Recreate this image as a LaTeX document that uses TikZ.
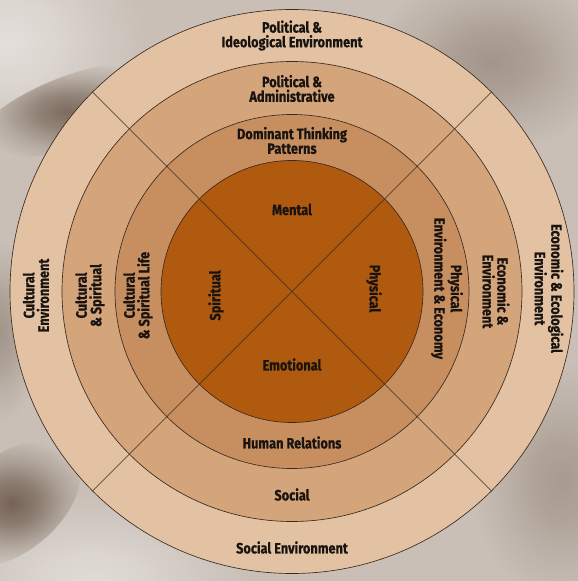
\documentclass[tikz,border=0pt]{standalone}
\usepackage{fontspec}
\setmainfont{Fira Sans}[FakeStretch=0.85, BoldFeatures={FakeBold=0.7}]
\usepackage{xcolor}
\usetikzlibrary{fadings}

\definecolor{paper}{HTML}{C9BFB7}
\definecolor{smudge}{HTML}{5A4636}
\definecolor{ringOuter}{HTML}{E2C2A2}
\definecolor{ringSecond}{HTML}{D4A47B}
\definecolor{ringThird}{HTML}{C78F60}
\definecolor{ringCore}{HTML}{B05A10}
\definecolor{lineBrown}{HTML}{3A2A20}
\definecolor{labelInk}{HTML}{1A1410}

\pgfdeclareradialshading{softshade}{\pgfpointorigin}{color(0bp)=(white);
  color(8bp)=(white!75!black); color(17bp)=(white!30!black);
  color(25bp)=(black); color(50bp)=(black)}
\pgfdeclarefading{softblob}{\pgfuseshading{softshade}}

\tikzset{
  ringline/.style={draw=lineBrown, line width=0.65pt},
  ringlabel/.style={align=center, inner sep=0pt, text=labelInk,
    font=\bfseries\fontsize{15}{14.6}\selectfont},
  blob/.style={fill=smudge, path fading=softblob},
}

\begin{document}
\begin{tikzpicture}[x=1pt,y=1pt]
        % Background
        \fill[paper] (-292,-289.5) rectangle (286,291.5);
        \useasboundingbox (-292,-289.5) rectangle (286,291.5);
        \fill[white, path fading=softblob, opacity=0.5] (-285,250) ellipse (140 and 120);
        \fill[white, path fading=softblob, opacity=0.45] (-200,-290) ellipse (160 and 90);
        \fill[blob, opacity=0.7, rotate around={22:(-225,180)}]
          (-225,180) ellipse (100 and 34);
        \fill[blob, opacity=0.75, rotate around={40:(-280,-212)}]
          (-280,-212) ellipse (80 and 48);
        \fill[blob, opacity=0.35] (200,230) ellipse (120 and 90);
        \fill[blob, opacity=0.3] (270,-190) ellipse (90 and 120);
        \fill[blob, opacity=0.35] (-292,-40) ellipse (40 and 90);
        % Rings
        \filldraw[fill=ringOuter, ringline] (0,0) circle (282);
        \filldraw[fill=ringSecond, ringline] (0,0) circle (230);
        \filldraw[fill=ringThird, ringline] (0,0) circle (177);
        \filldraw[fill=ringCore, ringline] (0,0) circle (131);
        % Diagonals
        \coordinate (ne) at (45:282);
        \coordinate (nw) at (135:282);
        \coordinate (sw) at (225:282);
        \coordinate (se) at (315:282);
        \draw[ringline] (nw) -- (se);
        \draw[ringline] (ne) -- (sw);
        % Top labels
        \node[ringlabel] (polIdeo) at (0,256) {Political \&\\Ideological Environment};
        \node[ringlabel] (polAdmin) at (0,203) {Political \&\\Administrative};
        \node[ringlabel] (thinking) at (0,151) {Dominant Thinking\\Patterns};
        \node[ringlabel] (mental) at (0,82) {Mental};
        % Bottom labels
        \node[ringlabel] (emotional) at (0,-73) {Emotional};
        \node[ringlabel] (relations) at (0,-151) {Human Relations};
        \node[ringlabel] (social) at (0,-203) {Social};
        \node[ringlabel] (socialEnv) at (0,-256) {Social Environment};
        % Left labels
        \node[ringlabel, rotate=90] (culturalEnv) at (-256,-4) {Cultural\\Environment};
        \node[ringlabel, rotate=90] (culturalSpir) at (-202,-4) {Cultural\\\& Spiritual};
        \node[ringlabel, rotate=90] (culturalLife) at (-154,-4) {Cultural\\\& Spiritual Life};
        \node[ringlabel, rotate=90] (spiritual) at (-76,-4) {Spiritual};
        % Right labels
        \node[ringlabel, rotate=-90] (physical) at (82,3) {Physical};
        \node[ringlabel, rotate=-90] (physEcon) at (155,3) {Physical\\Environment \& Economy};
        \node[ringlabel, rotate=-90] (econEnv) at (204,0) {Economic \&\\Environment};
        \node[ringlabel, rotate=-90] (econEco) at (257,3) {Economic \& Ecological\\Environment};
      \end{tikzpicture}
\end{document}
